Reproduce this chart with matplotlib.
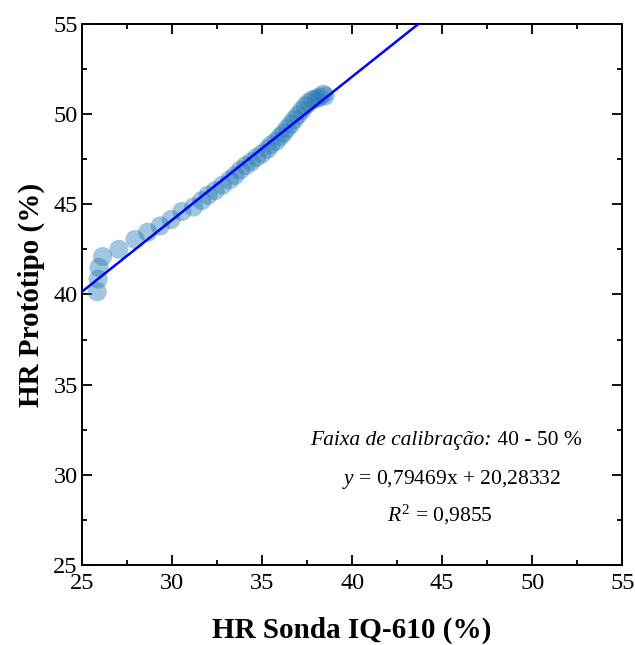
import numpy as np
import matplotlib
matplotlib.use("Agg")
import matplotlib.pyplot as plt
from matplotlib.ticker import MultipleLocator

# Leituras: HR da sonda IQ-610 (x) e do protótipo (y), em %
hr_sonda = [25.85, 25.9, 25.95, 26.15, 27.05, 27.95, 28.65, 29.35, 29.95,
            30.55, 31.2, 31.65, 32.0, 32.4, 32.8, 33.2, 33.5, 33.8, 34.1,
            34.4, 34.7, 35.0, 35.3, 35.5, 35.8, 36.0, 36.2, 36.4, 36.6,
            36.8, 37.0, 37.2, 37.4, 37.6, 37.8, 38.0, 38.2, 38.4, 38.5]
hr_prototipo = [40.15, 40.85, 41.5, 42.1, 42.5, 43.05, 43.45, 43.8, 44.15,
                44.6, 44.85, 45.2, 45.5, 45.75, 46.05, 46.35, 46.6, 46.9,
                47.15, 47.35, 47.6, 47.8, 48.05, 48.3, 48.5, 48.75, 48.95,
                49.2, 49.45, 49.7, 49.95, 50.2, 50.45, 50.65, 50.8, 50.85,
                50.95, 51.1, 51.0]

coef_a = 0.79469
coef_b = 20.28332

plt.rcParams["font.family"] = ["Liberation Serif", "DejaVu Serif"]
plt.rcParams["mathtext.fontset"] = "custom"
plt.rcParams["mathtext.rm"] = "Liberation Serif"
plt.rcParams["mathtext.it"] = "Liberation Serif:italic"

fig = plt.figure(figsize=(6.35, 6.45), dpi=100)
ax = fig.add_axes([0.129, 0.124, 0.851, 0.839])

ax.scatter(hr_sonda, hr_prototipo, s=190, color="#1f77b4", alpha=0.42,
           edgecolors="none", zorder=2)

xl = np.array([25, 55])
ax.plot(xl, coef_a * xl + coef_b, color="blue", lw=1.8, zorder=3)

ax.set_xlim(25, 55)
ax.set_ylim(25, 55)
ax.xaxis.set_major_locator(MultipleLocator(5))
ax.yaxis.set_major_locator(MultipleLocator(5))
ax.xaxis.set_minor_locator(MultipleLocator(2.5))
ax.yaxis.set_minor_locator(MultipleLocator(2.5))
ax.tick_params(which="both", direction="in", top=True, right=True,
               labelsize=17.5, width=1.3)
ax.tick_params(which="major", length=7)
ax.tick_params(axis="x", pad=6)
ax.tick_params(axis="y", pad=3)
ax.tick_params(which="minor", length=3.5)
for s in ax.spines.values():
    s.set_linewidth(1.4)

ax.set_xlabel("HR Sonda IQ-610 (%)", fontsize=21, fontweight="bold", labelpad=16)
ax.set_ylabel("HR Protótipo (%)", fontsize=21, fontweight="bold", labelpad=6)

ax.text(47.75, 31.9, "Faixa de calibração:", fontsize=15.5, style="italic",
        ha="right", va="center")
ax.text(47.75, 31.9, " 40 - 50 %", fontsize=15.5, ha="left", va="center")
ax.text(45.55, 29.75, r"$y$ = 0,79469x + 20,28332", fontsize=15.5,
        ha="center", va="center")
ax.text(44.9, 27.75, r"$R^{\mathrm{2}}$ = 0,9855", fontsize=15.5,
        ha="center", va="center")

fig.savefig("out.png", dpi=100)
